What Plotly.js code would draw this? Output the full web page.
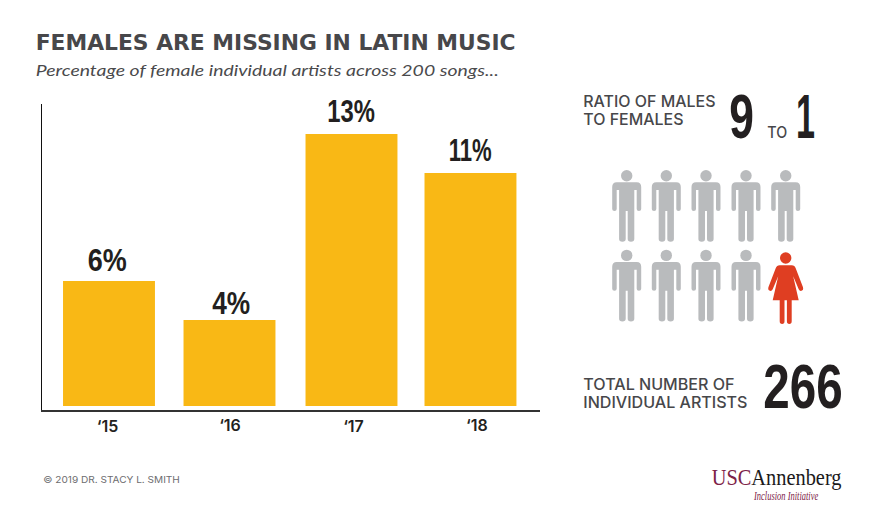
<!DOCTYPE html>
<html><head><meta charset="utf-8">
<script src="https://cdn.plot.ly/plotly-3.0.1.min.js"></script>
<style>html,body{margin:0;padding:0;background:#fff}#c{width:884px;height:512px}</style>
</head><body><div id="c"></div>
<script>
const categories = ["‘15", "‘16", "‘17", "‘18"];
const percentages = [5.95, 4.1, 12.95, 11.1];
const barLabels = ["6%", "4%", "13%", "11%"];
const malesPerRow = [5, 4];
const femalesPerRow = [0, 1];
const W = 884, H = 512;
const px = x => x / W, py = y => 1 - y / H;
const BIG = '"Liberation Sans",sans-serif';
const LABEL = 'Inter,Lato,sans-serif';

function pathOf(cmds) {
  return cmds.map(c => {
    const p = [];
    for (let i = 1; i < c.length; i += 2) p.push(px(c[i]) + ',' + py(c[i + 1]));
    return c[0] + p.join(' ');
  }).join(' ') + ' Z';
}
function pathShape(cmds, color) {
  return {type:'path', xref:'paper', yref:'paper', path:pathOf(cmds), fillcolor:color, line:{width:0}, layer:'above'};
}
function circle(cx, cy, r, color) {
  return {type:'circle', xref:'paper', yref:'paper', x0:px(cx-r), x1:px(cx+r), y0:py(cy+r), y1:py(cy-r), fillcolor:color, line:{width:0}, layer:'above'};
}
function male(cx, top) {
  const c = '#B9BBBD', y = v => top + v, x = v => cx + v;
  return [circle(cx, top + 5.7, 5.7, c), pathShape([
    ['M', x(-10), y(12.3)], ['L', x(10), y(12.3)],
    ['Q', x(14.5), y(12.3), x(14.5), y(17)],
    ['L', x(14.5), y(39)], ['Q', x(14.5), y(41), x(12.2), y(41)], ['Q', x(10), y(41), x(10), y(39)],
    ['L', x(10), y(20)], ['L', x(7.6), y(20)],
    ['L', x(7.6), y(69)], ['Q', x(7.6), y(71.7), x(4.3), y(71.7)], ['Q', x(1), y(71.7), x(1), y(69)],
    ['L', x(1), y(41)], ['L', x(-1), y(41)],
    ['L', x(-1), y(69)], ['Q', x(-1), y(71.7), x(-4.3), y(71.7)], ['Q', x(-7.6), y(71.7), x(-7.6), y(69)],
    ['L', x(-7.6), y(20)], ['L', x(-10), y(20)],
    ['L', x(-10), y(39)], ['Q', x(-10), y(41), x(-12.2), y(41)], ['Q', x(-14.5), y(41), x(-14.5), y(39)],
    ['L', x(-14.5), y(17)], ['Q', x(-14.5), y(12.3), x(-10), y(12.3)]
  ], c)];
}
function female(cx, top) {
  const c = '#DF3E22', y = v => top + v, x = v => cx + v;
  return [circle(cx, top + 5.7, 5.7, c), pathShape([
    ['M', x(-6), y(13)], ['L', x(6), y(13)],
    ['Q', x(9), y(13), x(10), y(16)],
    ['L', x(17.3), y(35)], ['Q', x(18), y(38), x(15.8), y(38.5)], ['Q', x(14), y(39), x(13), y(37)],
    ['L', x(7.5), y(24)], ['L', x(13), y(48)], ['L', x(6), y(48)],
    ['L', x(6), y(69)], ['Q', x(6), y(71.7), x(3.6), y(71.7)], ['Q', x(1.2), y(71.7), x(1.2), y(69)],
    ['L', x(1.2), y(48)], ['L', x(-1.2), y(48)],
    ['L', x(-1.2), y(69)], ['Q', x(-1.2), y(71.7), x(-3.6), y(71.7)], ['Q', x(-6), y(71.7), x(-6), y(69)],
    ['L', x(-6), y(48)], ['L', x(-13), y(48)], ['L', x(-7.5), y(24)],
    ['L', x(-13), y(37)], ['Q', x(-14), y(39), x(-15.8), y(38.5)], ['Q', x(-18), y(38), x(-17.3), y(35)],
    ['L', x(-10), y(16)], ['Q', x(-9), y(13), x(-6), y(13)]
  ], c)];
}
const colX = [626.7, 666.3, 706, 746, 785.7];
const rowTop = [170, 249.7];
let shapes = [];
malesPerRow.forEach((n, r) => {
  for (let i = 0; i < n; i++) shapes = shapes.concat(male(colX[i], rowTop[r]));
  for (let j = 0; j < femalesPerRow[r]; j++) shapes = shapes.concat(female(colX[n + j], rowTop[r] + 2.6));
});

const fits = [];
function note(text, x0, x1, y, size, color, family, weight, style) {
  fits.push([x0, x1]);
  return {text, xref:'paper', yref:'paper', x:px(x0), y:py(y), showarrow:false, align:'left',
    xanchor:'left', yanchor:'middle', borderpad:0,
    font:{size, color, family, weight:weight||400, style:style||'normal'}};
}
const annotations = [
  note('FEMALES ARE MISSING IN LATIN MUSIC', 35.7, 516, 43.3, 20.5, '#47474A', '"DejaVu Sans"', 700),
  note('Percentage of female individual artists across 200 songs...', 35.7, 499, 69, 16, '#4a4a4c', 'Lato', 400, 'italic'),
  note('RATIO OF MALES<br>TO FEMALES', 583.3, 715.7, 110.5, 15.5, '#47474A', LABEL, 500),
  note('9', 729.3, 754, 116, 63, '#231F20', BIG, 700),
  note('TO', 767.3, 787.3, 132.7, 15.5, '#47474A', LABEL, 500),
  note('1', 796, 815, 116, 63, '#231F20', BIG, 700),
  note('TOTAL NUMBER OF<br>INDIVIDUAL ARTISTS', 583.3, 747.7, 393.7, 15.5, '#47474A', LABEL, 500),
  note('266', 763.3, 842.7, 386, 63, '#231F20', BIG, 700),
  note('© 2019 DR. STACY L. SMITH', 43.3, 180, 479.5, 9.5, '#6d6d6f', LABEL, 400),
  note('<span style="color:#7d2248">USC</span>Annenberg', 711.7, 841.7, 477, 23.6, '#1c1a1b', '"Liberation Serif"', 400),
  note('Inclusion Initiative', 753.3, 818.3, 496, 11.5, '#7d2248', '"Liberation Serif"', 400, 'italic')
];
const labelWidths = [39, 38, 47.7, 43];
const labelNudgeX = [-1.5, 1.35, 1.15, -0.65];
const labelNudgeY = [1.8, -2.5, 3.8, 3.5];
barLabels.forEach((t, i) => {
  fits.push({width:labelWidths[i]});
  annotations.push({
    text:t, xref:'x', yref:'y', x:categories[i], y:percentages[i], yanchor:'bottom', xanchor:'center',
    showarrow:false, xshift:labelNudgeX[i], yshift:labelNudgeY[i], borderpad:0,
    font:{size:32, color:'#231F20', family:BIG, weight:700}
  });
});

const data = [{type:'bar', x:categories, y:percentages, width:0.763,
  offset:[-0.3815, -0.3815, -0.369, -0.3815], marker:{color:'#F9B815', line:{width:0}}, hoverinfo:'skip'}];
const layout = {
  width:W, height:H, margin:{l:0,r:0,t:0,b:0}, paper_bgcolor:'#fff', plot_bgcolor:'#fff', showlegend:false,
  xaxis:{domain:[px(42), px(540)], anchor:'y', type:'category', categoryorder:'array', categoryarray:categories,
    range:[-0.556, 3.577], showgrid:false, zeroline:false, showline:true, linecolor:'#333', linewidth:2,
    ticks:'', tickfont:{size:16, color:'#231F20', family:LABEL, weight:600}, automargin:false},
  yaxis:{domain:[py(410), py(104)], anchor:'x', range:[-0.19, 14.38], showgrid:false, zeroline:false, showline:true,
    linecolor:'#111', linewidth:1, showticklabels:false, ticks:'', automargin:false},
  annotations, shapes
};
const tickNudge = [[-1.5, 1], [0.5, 0], [3.5, 1], [6.5, 0]];
Plotly.newPlot('c', data, layout, {displayModeBar:false, staticPlot:true}).then(() => {
  fits.forEach((f, i) => {
    const el = document.querySelector('.annotation[data-index="' + i + '"] .annotation-text');
    if (!el) return;
    const before = el.getBBox();
    const lines = el.querySelectorAll('tspan.line');
    if (lines.length > 1) lines[1].setAttribute('dy', '1.13em');
    const bb = el.getBBox(), r = el.getBoundingClientRect();
    const cx = bb.x + bb.width / 2;
    const ty = (before.y + before.height / 2) - (bb.y + bb.height / 2);
    if (Array.isArray(f)) {
      const k = (f[1] - f[0]) / bb.width;
      const tx = bb.x + (f[0] - r.left) - k * bb.x;
      el.setAttribute('transform', 'translate(' + tx + ',' + ty + ') scale(' + k + ',1)');
    } else {
      const k = f.width / bb.width;
      el.setAttribute('transform', 'translate(' + (cx - k * cx) + ',0) scale(' + k + ',1)');
    }
  });
  document.querySelectorAll('.xtick text').forEach((t, i) => {
    const n = tickNudge[i]; if (!n) return;
    t.setAttribute('transform', 'translate(' + n[0] + ',' + n[1] + ') ' + (t.getAttribute('transform') || ''));
  });
});
</script></body></html>
